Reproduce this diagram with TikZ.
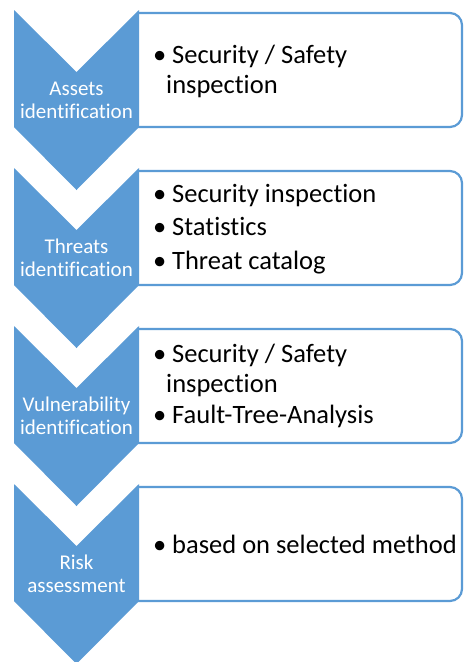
\documentclass[tikz,border=0pt]{standalone}
\usepackage{fontspec}
\setmainfont{Carlito}[Ligatures=NoCommon]
\definecolor{stepblue}{HTML}{5B9BD5}
% bullet with fixed hanging width, and indent for wrapped lines
\newcommand\bul{\makebox[16pt][l]{\hspace*{-3pt}\textbullet}}
\newcommand\cont{\hspace*{10pt}}
\begin{document}
\begin{tikzpicture}[x=1pt,y=-1pt,
  chevron/.style={fill=stepblue,draw=none},
  listbox/.style={draw=stepblue,line width=2.2pt,fill=white},
  steplabel/.style={text=white,anchor=base,inner sep=0pt,font=\fontsize{21}{23}\selectfont},
  itemtext/.style={text=black,anchor=base west,inner sep=0pt,font=\fontsize{26.5}{30}\selectfont}]
\useasboundingbox (0,0) rectangle (464,662);

% list boxes (right corners rounded) with the chevrons laid over their left ends
\foreach \t in {10,168,326,484}{
  \draw[listbox] (137,\t+3) -- (450,\t+3)
    arc[start angle=90,end angle=0,radius=12pt] -- (462,\t+105)
    arc[start angle=0,end angle=-90,radius=12pt] -- (137,\t+117);
  \fill[chevron] (14,\t) -- (76.5,\t+62) -- (139,\t) -- (139,\t+117)
    -- (76.5,\t+180) -- (14,\t+117) -- cycle;
}

% step labels
\node[steplabel] (lbl1) at (76.5,95)  {\begin{tabular}[t]{@{}c@{}}Assets\\identification\end{tabular}};
\node[steplabel] (lbl2) at (76.5,253) {\begin{tabular}[t]{@{}c@{}}Threats\\identification\end{tabular}};
\node[steplabel] (lbl3) at (76.5,411) {\begin{tabular}[t]{@{}c@{}}Vulnerability\\identification\end{tabular}};
\node[steplabel] (lbl4) at (76.5,569) {\begin{tabular}[t]{@{}c@{}}Risk\\assessment\end{tabular}};

% bullet lists
\node[itemtext] (lst1) at (156,63) {\begin{tabular}[t]{@{}l@{}}\bul Security / Safety\\\cont inspection\end{tabular}};
\node[itemtext] (lst2) at (156,202) {\begin{tabular}[t]{@{}l@{}}\bul Security inspection\\[3.5pt]\bul Statistics\\[3.5pt]\bul Threat catalog\end{tabular}};
\node[itemtext] (lst3) at (156,362) {\begin{tabular}[t]{@{}l@{}}\bul Security / Safety\\\cont inspection\\[1pt]\bul Fault-Tree-Analysis\end{tabular}};
\node[itemtext] (lst4) at (156,553) {\begin{tabular}[t]{@{}l@{}}\bul based on selected method\end{tabular}};
\end{tikzpicture}
\end{document}
